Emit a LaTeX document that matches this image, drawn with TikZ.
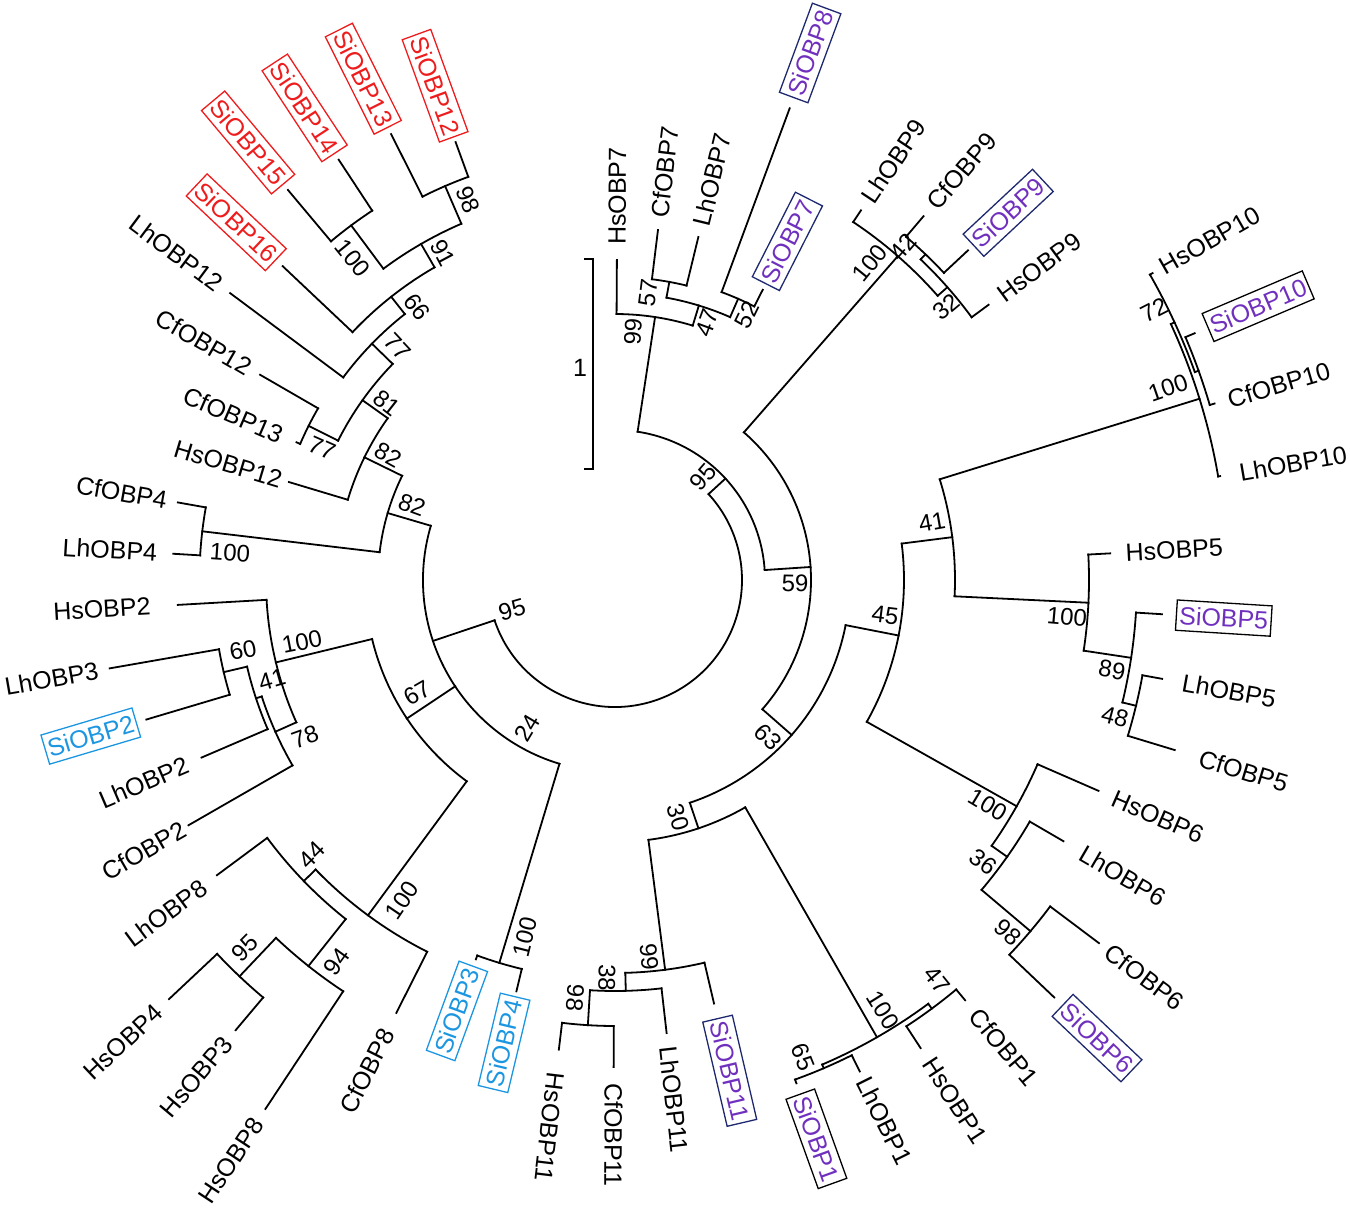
\documentclass[tikz,border=0pt]{standalone}
\usepackage{fontspec}
\setmainfont{Liberation Sans}
\definecolor{sred}{RGB}{238,28,28}
\definecolor{sblue}{RGB}{28,150,225}
\definecolor{spur}{RGB}{112,48,190}
\definecolor{snavy}{RGB}{30,40,110}
\tikzset{
  tl/.style={line width=1.8pt, line cap=rect},
  lf/.style={font=\fontsize{25}{30}\selectfont, inner sep=0pt},
  bx/.style={lf, draw, line width=1.3pt, inner xsep=3pt, inner ysep=6pt},
  redbox/.style={bx, text=sred, draw=sred},
  bluebox/.style={bx, text=sblue, draw=sblue},
  navybox/.style={bx, text=spur, draw=snavy},
  blackbox/.style={bx, text=spur, draw=black},
  sup/.style={font=\fontsize{24}{28}\selectfont, inner sep=0pt}
}
\newcommand{\Arc}[3]{\draw[tl] (#1:#3pt) arc[start angle=#1,end angle=#2,radius=#3pt];}
\newcommand{\Rad}[3]{\draw[tl] (#1:#2pt) -- (#1:#3pt);}
\newcommand{\Lab}[5]{\node[#1, rotate=#4] (#5) at (#2:#3pt) {#5};}
\begin{document}
\begin{tikzpicture}[x=1pt,y=-1pt]
\useasboundingbox (0,0) rectangle (1350,1209);
\begin{scope}[shift={(615,580)}]
% root
\Arc{198.5}{402.57}{127}
\Rad{198.5}{127}{192}
\Rad{402.57}{127}{150}
% left arcs L2, L1
\Arc{163.59}{253.19}{192}
\Rad{163.59}{192}{237}
\Rad{213.645}{192}{250}
\Rad{253.19}{192}{400}
% top-left clade
\Arc{153.915}{173.27}{237}
\Rad{153.915}{237}{279}
\Rad{173.27}{237}{415.6}
\Arc{169.94}{176.60}{415.6}
\Rad{169.94}{415.6}{444}
\Rad{176.60}{415.6}{442.6}
\Arc{144.55}{163.28}{279}
\Rad{144.55}{279}{310}
\Rad{163.28}{279}{340.5}
\Arc{135.81}{153.29}{310}
\Rad{135.81}{310}{339}
\Rad{153.29}{310}{343}
\Arc{149.96}{156.62}{343}
\Rad{149.96}{343}{410}
\Rad{156.62}{343}{347}
\Arc{128.315}{143.30}{339}
\Rad{128.315}{339}{361}
\Rad{143.30}{339}{480}
\Arc{119.99}{136.64}{361}
\Rad{119.99}{361}{388}
\Rad{136.64}{361}{457}
\Arc{113.33}{126.65}{388}
\Rad{113.33}{388}{429}
\Rad{126.65}{388}{442}
\Arc{110}{116.66}{429}
\Rad{110}{429}{466}
\Rad{116.66}{429}{499}
\Arc{123.32}{129.98}{442}
\Rad{123.32}{442}{503}
\Rad{129.98}{442}{509}
% node 67 and left-middle
\Arc{193.665}{233.625}{250}
\Rad{193.665}{250}{349}
\Rad{233.625}{250}{416.5}
\Arc{183.26}{204.07}{349}
\Rad{183.26}{349}{438}
\Rad{204.07}{349}{372}
\Arc{198.245}{209.90}{372}
\Rad{198.245}{372}{378}
\Rad{209.90}{372}{492}
\Arc{193.25}{203.24}{378}
\Rad{193.25}{378}{402}
\Rad{203.24}{378}{450}
\Arc{189.92}{196.58}{402}
\Rad{189.92}{402}{513}
\Rad{196.58}{402}{489}
% lower-left
\Arc{224.05}{243.20}{416.5}
\Rad{224.05}{416.5}{433}
\Rad{243.20}{416.5}{485}
\Arc{216.56}{231.545}{433}
\Rad{216.56}{433}{495.6}
\Rad{231.545}{433}{493}
\Arc{226.55}{236.54}{493}
\Rad{226.55}{493}{546}
\Rad{236.54}{493}{634}
\Arc{223.22}{229.88}{546}
\Rad{223.22}{546}{612}
\Rad{229.88}{546}{588.7}
\Arc{249.86}{256.52}{400}
\Rad{249.86}{400}{404}
\Rad{256.52}{400}{423}
% upper right
\Arc{363.81}{441.335}{150}
\Rad{363.81}{150}{196}
\Rad{441.335}{150}{266}
\Arc{433.01}{449.66}{266}
\Rad{433.01}{266}{287}
\Rad{449.66}{266}{320}
\Arc{426.35}{439.67}{287}
\Rad{426.35}{287}{307}
\Rad{439.67}{287}{303}
\Arc{423.02}{429.68}{307}
\Rad{423.02}{307}{325.6}
\Rad{429.68}{307}{503}
\Arc{436.34}{443.00}{303}
\Rad{436.34}{303}{353}
\Rad{443.00}{303}{352.6}
\Arc{318.75}{408.87}{196}
\Rad{318.75}{196}{235}
\Rad{408.87}{196}{430}
\Arc{401.375}{416.36}{430}
\Rad{401.375}{430}{443}
\Rad{416.36}{430}{444}
\Arc{396.38}{406.37}{443}
\Rad{396.38}{443}{464}
\Rad{406.37}{443}{450}
\Arc{403.04}{409.70}{450}
\Rad{403.04}{450}{483}
\Rad{409.70}{450}{477}
% bottom
\Arc{288.57}{348.925}{235}
\Rad{288.57}{235}{262}
\Rad{348.925}{235}{289}
\Arc{277.33}{299.81}{262}
\Rad{277.33}{262}{393}
\Rad{299.81}{262}{527}
\Arc{271.505}{283.16}{393}
\Rad{271.505}{393}{411}
\Rad{283.16}{393}{435}
\Arc{266.51}{276.50}{411}
\Rad{266.51}{411}{446}
\Rad{276.50}{411}{456}
\Arc{263.18}{269.84}{446}
\Rad{263.18}{446}{473}
\Rad{269.84}{446}{487}
\Arc{293.15}{306.47}{527}
\Rad{293.15}{527}{531}
\Rad{306.47}{527}{533}
\Arc{289.82}{296.48}{531}
\Rad{289.82}{531}{535}
\Rad{296.48}{531}{549}
\Arc{303.14}{309.80}{533}
\Rad{303.14}{533}{559}
\Rad{309.80}{533}{547}
% right
\Arc{330.61}{367.24}{289}
\Rad{330.61}{289}{461}
\Rad{367.24}{289}{340}
\Arc{324.785}{336.44}{461}
\Rad{324.785}{461}{480}
\Rad{336.44}{461}{527.5}
\Arc{319.79}{329.78}{480}
\Rad{319.79}{480}{544}
\Rad{329.78}{480}{519}
\Arc{316.46}{323.12}{544}
\Rad{316.46}{544}{606}
\Rad{323.12}{544}{605}
\Arc{357.25}{377.23}{340}
\Rad{357.25}{340}{474}
\Rad{377.23}{340}{612}
\Arc{351.425}{363.08}{474}
\Rad{351.425}{474}{522}
\Rad{363.08}{474}{496}
\Arc{346.43}{356.42}{522}
\Rad{346.43}{522}{536}
\Rad{356.42}{522}{548}
\Arc{343.10}{349.76}{536}
\Rad{343.10}{536}{585}
\Rad{349.76}{536}{556}
\Arc{369.74}{384.725}{612}
\Rad{369.74}{612}{614}
\Rad{384.725}{612}{616}
\Arc{379.73}{389.72}{616}
\Rad{379.73}{616}{620}
\Rad{389.72}{616}{619}
\Arc{376.40}{383.06}{620}
\Rad{376.40}{620}{625}
\Rad{383.06}{620}{630}
% leaf labels
\Lab{redbox}{110.00}{526}{-70.00}{SiOBP12}
\Lab{redbox}{116.66}{561}{-63.34}{SiOBP13}
\Lab{redbox}{123.32}{565}{-56.68}{SiOBP14}
\Lab{redbox}{129.98}{571}{-50.02}{SiOBP15}
\Lab{redbox}{136.64}{521}{-43.36}{SiOBP16}
\Lab{lf}{143.30}{547}{-36.70}{LhOBP12}
\Lab{lf}{149.96}{475}{-30.04}{CfOBP12}
\Lab{lf}{156.62}{416}{-23.38}{CfOBP13}
\Lab{lf}{163.28}{404}{-16.72}{HsOBP12}
\Lab{lf}{169.94}{501}{-10.06}{CfOBP4}
\Lab{lf}{176.60}{506}{-3.40}{LhOBP4}
\Lab{lf}{183.26}{514}{3.26}{HsOBP2}
\Lab{lf}{189.92}{572}{9.92}{LhOBP3}
\Lab{bluebox}{196.58}{547}{16.58}{SiOBP2}
\Lab{lf}{203.24}{513}{23.24}{LhOBP2}
\Lab{lf}{209.90}{543}{29.90}{CfOBP2}
\Lab{lf}{216.56}{559}{36.56}{LhOBP8}
\Lab{lf}{223.22}{675}{43.22}{HsOBP4}
\Lab{lf}{229.88}{650}{49.88}{HsOBP3}
\Lab{lf}{236.54}{696}{56.54}{HsOBP8}
\Lab{lf}{243.20}{550}{63.20}{CfOBP8}
\Lab{bluebox}{249.86}{459}{69.86}{SiOBP3}
\Lab{bluebox}{256.52}{476}{76.52}{SiOBP4}
\Lab{lf}{263.18}{551}{263.18}{HsOBP11}
\Lab{lf}{269.84}{555}{269.84}{CfOBP11}
\Lab{lf}{276.50}{523}{276.50}{LhOBP11}
\Lab{navybox}{283.16}{504}{283.16}{SiOBP11}
\Lab{blackbox}{289.82}{594}{289.82}{SiOBP1}
\Lab{lf}{296.48}{604}{296.48}{LhOBP1}
\Lab{lf}{303.14}{622}{303.14}{HsOBP1}
\Lab{lf}{309.80}{608}{309.80}{CfOBP1}
\Lab{navybox}{316.46}{665}{316.46}{SiOBP6}
\Lab{lf}{323.12}{662}{323.12}{CfOBP6}
\Lab{lf}{329.78}{588}{329.78}{LhOBP6}
\Lab{lf}{336.44}{592}{336.44}{HsOBP6}
\Lab{lf}{343.10}{657}{343.10}{CfOBP5}
\Lab{lf}{349.76}{624}{349.76}{LhOBP5}
\Lab{blackbox}{356.42}{610}{356.42}{SiOBP5}
\Lab{lf}{363.08}{560}{363.08}{HsOBP5}
\Lab{lf}{369.74}{688}{369.74}{LhOBP10}
\Lab{lf}{376.40}{692}{376.40}{CfOBP10}
\Lab{blackbox}{383.06}{699}{383.06}{SiOBP10}
\Lab{lf}{389.72}{685}{389.72}{HsOBP10}
\Lab{lf}{396.38}{527}{396.38}{HsOBP9}
\Lab{navybox}{403.04}{538}{403.04}{SiOBP9}
\Lab{lf}{409.70}{536}{409.70}{CfOBP9}
\Lab{lf}{416.36}{503}{416.36}{LhOBP9}
\Lab{navybox}{423.02}{380}{423.02}{SiOBP7}
\Lab{navybox}{429.68}{562}{429.68}{SiOBP8}
\Lab{lf}{436.34}{412}{436.34}{LhOBP7}
\Lab{lf}{443.00}{411}{443.00}{CfOBP7}
\Lab{lf}{449.66}{384}{449.66}{HsOBP7}
\end{scope}
% scale bar
\draw[tl] (585,259) -- (593,259) -- (593,469) -- (585,469);
\node[lf] (scale) at (580,368) {1};
% support values
\node[sup,rotate=-69] (s1) at (468,200) {98};
\node[sup,rotate=-51] (s2) at (353,258) {100};
\node[sup,rotate=-62] (s3) at (443,253) {91};
\node[sup,rotate=-54] (s4) at (417,307) {66};
\node[sup,rotate=-47] (s5) at (398,347) {77};
\node[sup,rotate=-38] (s6) at (387,403) {81};
\node[sup,rotate=-24] (s7) at (322,448) {77};
\node[sup,rotate=-29] (s8) at (388,455) {82};
\node[sup,rotate=-20] (s9) at (412,505) {82};
\node[sup,rotate=-4] (s10) at (230,553) {100};
\node[sup,rotate=11] (s11) at (243,650) {60};
\node[sup,rotate=16] (s12) at (272,680) {41};
\node[sup,rotate=11] (s13) at (302,642) {100};
\node[sup,rotate=20] (s14) at (305,737) {78};
\node[sup,rotate=30] (s15) at (417,693) {67};
\node[sup,rotate=16] (s16) at (512,610) {95};
\node[sup,rotate=59] (s17) at (527,728) {24};
\node[sup,rotate=45] (s18) at (312,855) {44};
\node[sup,rotate=56] (s19) at (402,900) {100};
\node[sup,rotate=54] (s20) at (337,962) {94};
\node[sup,rotate=45] (s21) at (245,948) {95};
\node[sup,rotate=76] (s22) at (525,937) {100};
\node[sup,rotate=-95] (s23) at (575,998) {98};
\node[sup,rotate=-91] (s24) at (607,978) {38};
\node[sup,rotate=-85] (s25) at (649,957) {99};
\node[sup,rotate=-75] (s26) at (678,817) {30};
\node[sup,rotate=-46] (s27) at (768,737) {63};
\node[sup,rotate=-1] (s28) at (795,583) {59};
\node[sup,rotate=49] (s29) at (703,477) {95};
\node[sup,rotate=-58] (s30) at (883,1010) {100};
\node[sup,rotate=-68] (s31) at (803,1057) {65};
\node[sup,rotate=-51] (s32) at (937,980) {47};
\node[sup,rotate=-31] (s33) at (988,805) {100};
\node[sup,rotate=-37] (s34) at (983,862) {36};
\node[sup,rotate=-42] (s35) at (1008,932) {98};
\node[sup,rotate=-7] (s36) at (885,615) {45};
\node[sup,rotate=10] (s37) at (932,522) {41};
\node[sup,rotate=-5] (s38) at (1067,617) {100};
\node[sup,rotate=-10] (s39) at (1112,670) {89};
\node[sup,rotate=-15] (s40) at (1115,717) {48};
\node[sup,rotate=19] (s41) at (1168,388) {100};
\node[sup,rotate=27] (s42) at (1154,310) {72};
\node[sup,rotate=51] (s43) at (870,263) {100};
\node[sup,rotate=49] (s44) at (903,247) {42};
\node[sup,rotate=40] (s45) at (946,307) {32};
\node[sup,rotate=86] (s46) at (633,332) {99};
\node[sup,rotate=83] (s47) at (648,293) {57};
\node[sup,rotate=70] (s48) at (707,323) {47};
\node[sup,rotate=64] (s49) at (747,315) {52};
\end{tikzpicture}
\end{document}
